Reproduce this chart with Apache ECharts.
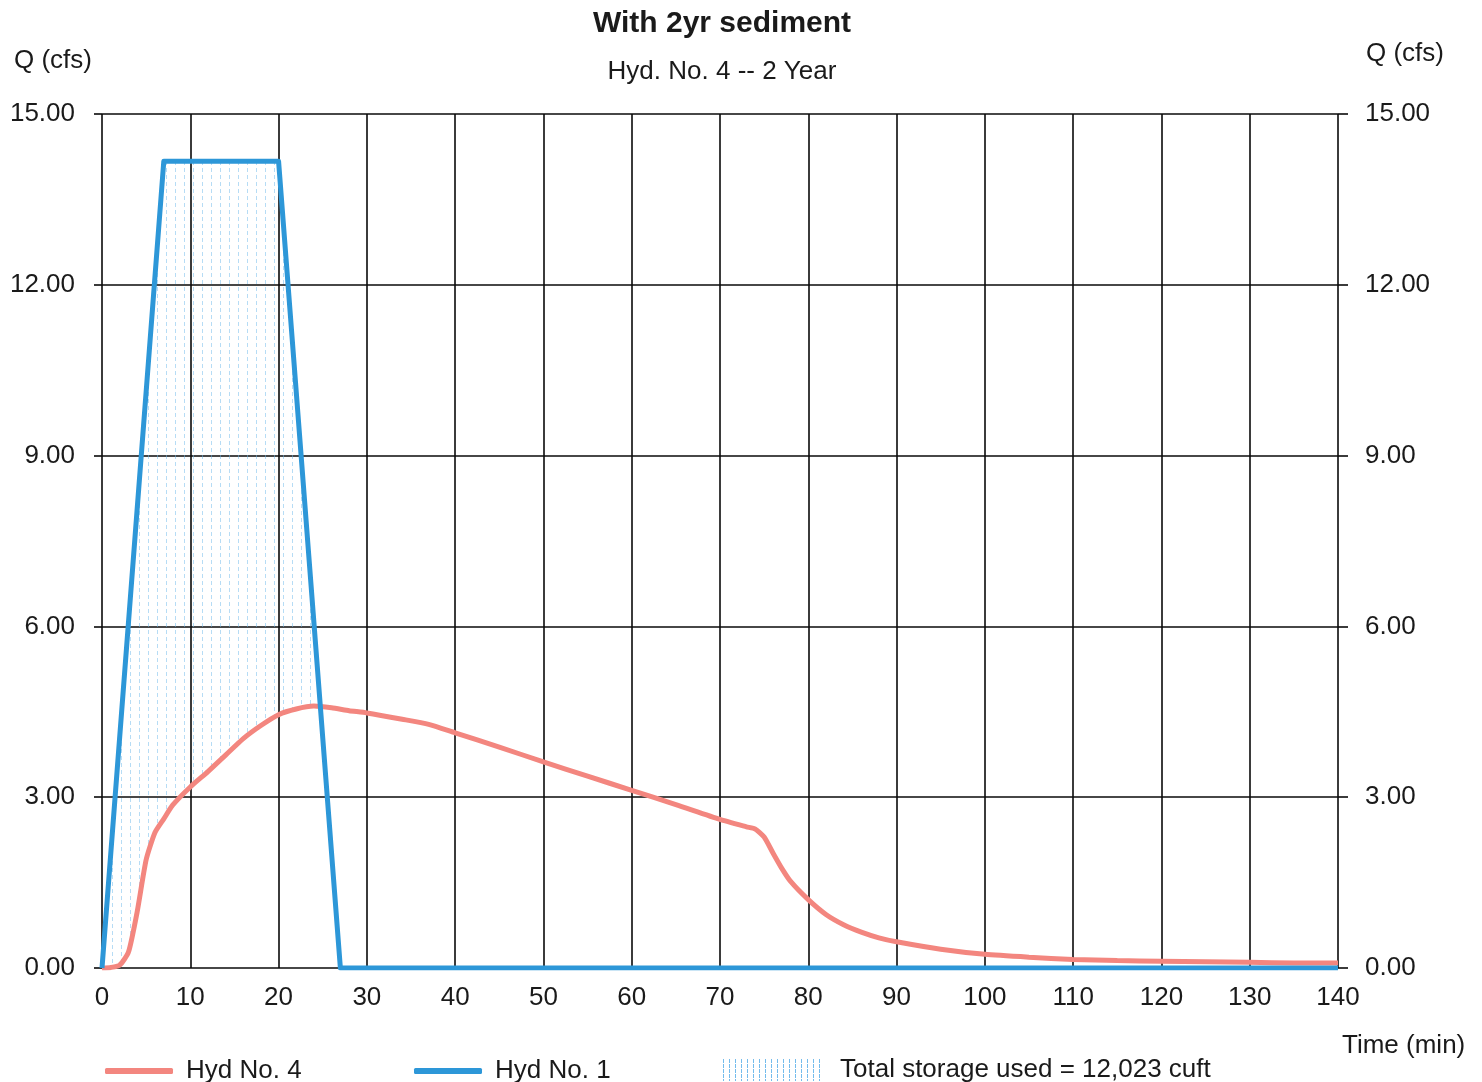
<!DOCTYPE html>
<html>
<head>
<meta charset="utf-8">
<script src="https://cdn.jsdelivr.net/npm/echarts@6/dist/echarts.min.js"></script>
<style>
html,body{margin:0;padding:0;background:#fff;}
#chart{width:1482px;height:1082px;}
</style>
</head>
<body>
<div id="chart"></div>
<script>
// ---- Data ----
var chartTitle = 'With 2yr sediment';
var chartSubtitle = 'Hyd. No. 4 -- 2 Year';
var xTicks = [0, 10, 20, 30, 40, 50, 60, 70, 80, 90, 100, 110, 120, 130, 140];
var yTicks = [0, 3, 6, 9, 12, 15];

// Hyd No. 1 (inflow)
var hyd1Time = [0, 7, 20, 27, 140];
var hyd1Q    = [0, 14.17, 14.17, 0, 0];

// Hyd No. 4 (outflow)
var hyd4Time = [0, 1, 2, 3, 4, 5, 6, 7, 8, 10, 12, 14, 16, 18, 20, 22, 24, 26, 28, 30, 34, 37, 40, 45, 50, 55, 60, 65, 70, 73, 74, 75, 76, 77, 78, 80, 82, 84, 86, 88, 90, 95, 100, 105, 110, 115, 120, 125, 130, 135, 140];
var hyd4Q    = [0, 0.01, 0.05, 0.28, 1.0, 1.9, 2.38, 2.62, 2.86, 3.18, 3.45, 3.74, 4.03, 4.26, 4.45, 4.55, 4.6, 4.57, 4.52, 4.48, 4.37, 4.28, 4.13, 3.88, 3.62, 3.37, 3.12, 2.87, 2.61, 2.48, 2.44, 2.3, 2.02, 1.75, 1.52, 1.2, 0.94, 0.76, 0.63, 0.53, 0.46, 0.33, 0.24, 0.19, 0.15, 0.13, 0.12, 0.11, 0.10, 0.09, 0.09];

var storageLabel = 'Total storage used = 12,023 cuft';

// ---- Styles ----
var RED = '#f3867f';
var BLUE = '#2d97d8';
var FONT = '"Liberation Sans", Arial, sans-serif';

function zip(a, b) { return a.map(function (v, i) { return [v, b[i]]; }); }

// hatch pattern
var pat = document.createElement('canvas');
pat.width = 9; pat.height = 7;
(function () {
  var c = pat.getContext('2d');
  c.fillStyle = 'rgba(110,185,235,0.5)';
  c.fillRect(4, 0, 1, 4);
})();
var legendHatch = document.createElement('canvas');
legendHatch.width = 104; legendHatch.height = 22;
(function () {
  var c = legendHatch.getContext('2d');
  c.fillStyle = 'rgba(70,165,230,0.75)';
  for (var x = 2; x < 104; x += 6) { for (var y = 0; y < 22; y += 5) c.fillRect(x, y, 1, 4); }
})();

function segIntersect(p1, p2, p3, p4) {
  var d = (p2[0]-p1[0])*(p4[1]-p3[1]) - (p2[1]-p1[1])*(p4[0]-p3[0]);
  if (Math.abs(d) < 1e-12) return null;
  var t = ((p3[0]-p1[0])*(p4[1]-p3[1]) - (p3[1]-p1[1])*(p4[0]-p3[0])) / d;
  var u = ((p3[0]-p1[0])*(p2[1]-p1[1]) - (p3[1]-p1[1])*(p2[0]-p1[0])) / d;
  if (t < 0 || t > 1 || u < 0 || u > 1) return null;
  return [p1[0] + t*(p2[0]-p1[0]), p1[1] + t*(p2[1]-p1[1])];
}

function storagePolygon() {
  var b = zip(hyd1Time, hyd1Q), r = zip(hyd4Time, hyd4Q);
  var cross = null;
  for (var i = 0; i < b.length - 1 && !cross; i++) {
    for (var j = 0; j < r.length - 1; j++) {
      var p = segIntersect(b[i], b[i+1], r[j], r[j+1]);
      if (p && p[0] > 1) { cross = p; break; }
    }
  }
  var pts = [];
  b.forEach(function (p) { if (p[0] < cross[0]) pts.push(p); });
  pts.push(cross);
  for (var k = r.length - 1; k >= 0; k--) if (r[k][0] < cross[0]) pts.push(r[k]);
  return pts;
}
var polyData = storagePolygon();

var chart = echarts.init(document.getElementById('chart'));
var axisText = { fontFamily: FONT, fontSize: 26, color: '#1a1a1a' };
var plainText = { fontFamily: FONT, fontSize: 26, fontWeight: 'normal', color: '#1a1a1a' };

var option = {
  backgroundColor: '#ffffff',
  animation: false,
  title: [
    { text: chartTitle, left: 717, top: 4, textAlign: 'center',
      textStyle: { fontFamily: FONT, fontSize: 30, fontWeight: 'bold', color: '#1a1a1a' } },
    { text: chartSubtitle, left: 717, top: 54, textAlign: 'center', textStyle: plainText },
    { text: 'Q (cfs)', left: 9, top: 43, textStyle: plainText },
    { text: 'Q (cfs)', left: 1361, top: 36, textStyle: plainText },
    { text: 'Time (min)', left: 1337, top: 1028, textStyle: plainText }
  ],
  legend: [
    { left: 100, top: 1053, itemWidth: 68, itemHeight: 6, icon: 'roundRect',
      textStyle: { fontFamily: FONT, fontSize: 26, color: '#1a1a1a', padding: [0, 0, 0, 8] },
      data: ['Hyd No. 4'] },
    { left: 409, top: 1053, itemWidth: 68, itemHeight: 6, icon: 'roundRect',
      textStyle: { fontFamily: FONT, fontSize: 26, color: '#1a1a1a', padding: [0, 0, 0, 8] },
      data: ['Hyd No. 1'] },
    { left: 716, top: 1052, itemWidth: 104, itemHeight: 22,
      textStyle: { fontFamily: FONT, fontSize: 26, color: '#1a1a1a', padding: [0, 0, 0, 10] },
      data: [{ name: storageLabel, icon: 'image://' + legendHatch.toDataURL() }] }
  ],
  grid: { left: 102, right: 144, top: 114, bottom: 114, containLabel: false },
  xAxis: {
    type: 'value', min: xTicks[0], max: xTicks[xTicks.length - 1], interval: 10,
    axisLine: { show: false }, axisTick: { show: false },
    axisLabel: Object.assign({ margin: 17 }, axisText),
    splitLine: { show: true, lineStyle: { color: '#0a0a0a', width: 1.6 } }
  },
  yAxis: [
    { type: 'value', min: yTicks[0], max: yTicks[yTicks.length - 1], interval: 3, position: 'left',
      axisLine: { show: false },
      axisTick: { show: true, length: 8, lineStyle: { color: '#0a0a0a', width: 1.6 } },
      axisLabel: Object.assign({ margin: 27, formatter: function (v) { return v.toFixed(2); } }, axisText),
      splitLine: { show: true, lineStyle: { color: '#0a0a0a', width: 1.6 } } },
    { type: 'value', min: yTicks[0], max: yTicks[yTicks.length - 1], interval: 3, position: 'right',
      axisLine: { show: false },
      axisTick: { show: true, length: 10, lineStyle: { color: '#0a0a0a', width: 1.6 } },
      axisLabel: Object.assign({ margin: 27, formatter: function (v) { return v.toFixed(2); } }, axisText),
      splitLine: { show: false } }
  ],
  series: [
    { name: storageLabel, type: 'custom', coordinateSystem: 'cartesian2d', z: 1,
      itemStyle: { color: '#8cc8ee' },
      data: [[0, 0]],
      renderItem: function (params, api) {
        var pts = polyData.map(function (p) { return api.coord(p); });
        return { type: 'polygon', shape: { points: pts },
          style: { fill: { image: pat, repeat: 'repeat' }, stroke: null } };
      } },
    { name: 'Hyd No. 4', type: 'line', data: zip(hyd4Time, hyd4Q), showSymbol: false, z: 3,
      smooth: 0.2,
      itemStyle: { color: RED }, lineStyle: { color: RED, width: 5 } },
    { name: 'Hyd No. 1', type: 'line', data: zip(hyd1Time, hyd1Q), showSymbol: false, z: 4,
      itemStyle: { color: BLUE }, lineStyle: { color: BLUE, width: 5, join: 'round' } }
  ]
};
chart.setOption(option);
</script>
</body>
</html>
